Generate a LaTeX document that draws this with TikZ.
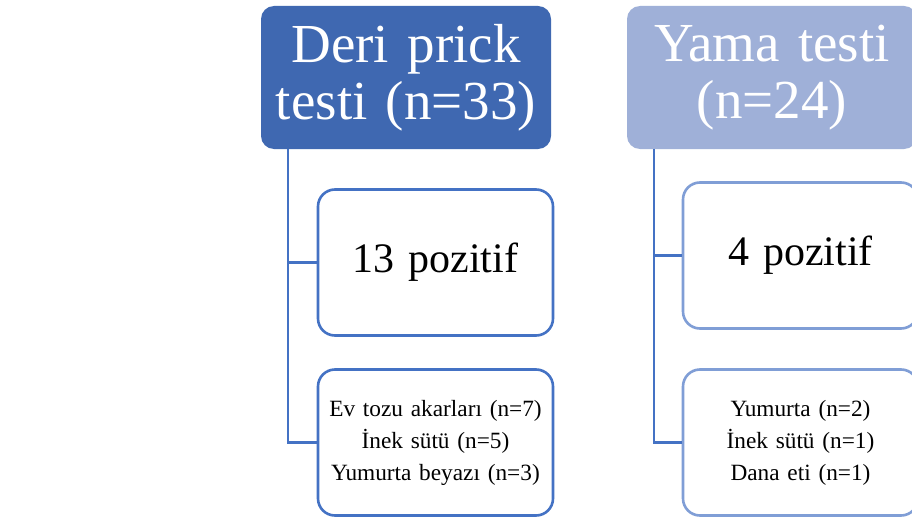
\documentclass[tikz,border=0pt]{standalone}
\usepackage{fontspec}
\setmainfont{Liberation Serif}
\definecolor{hdrA}{RGB}{63,104,177}
\definecolor{hdrB}{RGB}{159,176,216}
\definecolor{bordA}{RGB}{68,114,196}
\definecolor{bordB}{RGB}{128,158,214}
\definecolor{connA}{RGB}{68,114,196}
\tikzset{
  hdr/.style={rectangle, rounded corners=13pt, minimum width=290pt, minimum height=143pt,
    text width=285pt, align=center, text=white, inner sep=0pt,
    font=\fontsize{55}{57}\selectfont},
  bigbox/.style={rectangle, rounded corners=17pt, fill=white, line width=2.6pt,
    minimum width=235pt, minimum height=146pt, text width=230pt, align=center, inner sep=0pt,
    font=\fontsize{42}{45}\selectfont},
  listbox/.style={rectangle, rounded corners=17pt, fill=white, line width=2.6pt,
    minimum width=235pt, minimum height=146pt, text width=230pt, align=center, inner sep=0pt,
    font=\fontsize{23.3}{32}\selectfont},
  conn/.style={draw=connA, line width=2.4pt}
}
\begin{document}
\begin{tikzpicture}[x=1pt,y=-1pt]
\useasboundingbox (0,0) rectangle (912,519);
\clip (0,0) rectangle (912,519);
\fill[white] (0,0) rectangle (912,519);
% left column
\node[hdr, fill=hdrA] (h1) at (406,77.5) {Deri prick\\testi (n=33)};
\node[bigbox, draw=bordA] (b1) at (435.5,262.5) {13 pozitif};
\node[listbox, draw=bordA] (b2) at (435.5,442.5) {Ev tozu akarları (n=7)\\İnek sütü (n=5)\\Yumurta beyazı (n=3)};
% right column
\node[hdr, fill=hdrB] (h2) at (772,77.5) {Yama testi\\(n=24)};
\node[bigbox, draw=bordB] (b3) at (800.5,255.5) {4 pozitif};
\node[listbox, draw=bordB] (b4) at (800.5,442.5) {Yumurta (n=2)\\İnek sütü (n=1)\\Dana eti (n=1)};
% connectors
\draw[conn] ([xshift=27pt]h1.south west) |- (b1.west);
\draw[conn] ([xshift=27pt]h1.south west) |- (b2.west);
\draw[conn] ([xshift=27pt]h2.south west) |- (b3.west);
\draw[conn] ([xshift=27pt]h2.south west) |- (b4.west);
\end{tikzpicture}
\end{document}
